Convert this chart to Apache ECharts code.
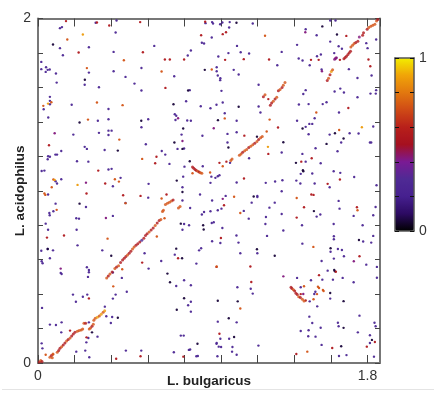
<!DOCTYPE html>
<html><head><meta charset="utf-8">
<style>html,body{margin:0;padding:0;background:#fff}#c{width:434px;height:393px}</style>
<script src="https://cdn.jsdelivr.net/npm/echarts@6/dist/echarts.min.js"></script>
</head><body><div id="c"></div>
<script>
// Match identity classes
const DARK=.06, PURPLE=.27, MAGENTA=.42, RED=.55, ORANGE=.72, AMBER=.88;
// L. bulgaricus (Mb), L. acidophilus (Mb)
const purpleHits=[
[.315,1.975],[.429,1.988],[.915,1.973],[.951,1.979],[.956,1.971],[.12,1.944],[.131,1.95],[.424,1.919],[.949,1.89],[.12,1.828],[.278,1.833],[.635,1.841],[.895,1.859],[.907,1.855],[.835,1.814],[.136,1.787],[.413,1.806],[.818,1.785],[.018,1.748],[.018,1.706],[.044,1.717],[.042,1.69],[.053,1.702],[.064,1.704],[.278,1.686],[.098,1.681],[.413,1.694],[.565,1.713],[.478,1.661],[.744,1.665],[.255,1.615],[.102,1.628],[.527,1.622],[.333,1.601],[.565,1.582],[.829,1.584],[.065,1.545],[.065,1.522],[.065,1.502],[.031,1.473],[.184,1.499],[.385,1.475],[.809,1.52],[.889,1.491],[.942,1.479],[.975,1.499],[.747,1.444],[.755,1.435],[.751,1.411],[.056,1.425],[.815,1.408],[.835,1.406],[.327,1.406],[.385,1.415],[.602,1.415],[.565,1.369],[.385,1.349],[.402,1.349],[.385,1.324],[.333,1.336],[.193,1.326],[.784,1.326],[.898,1.319],[.589,1.27],[.255,1.255],[.267,1.243],[.364,1.237],[.762,1.243],[.798,1.245],[.676,1.231],[.695,1.21],[.127,1.231],[.104,1.21],[.095,1.21],[.055,1.2],[.053,1.183],[.065,1.197],[.213,1.171],[.275,1.169],[.718,1.156],[.8,1.14],[.9,1.142],[.385,1.123],[.402,1.127],[.02,1.115],[.035,1.117],[.793,1.082],[.947,1.082],[.969,1.075],[.451,1.075],[.096,1.055],[.104,1.042],[.127,1.067],[.942,1.046],[.409,1.026],[.604,1.04],[.789,1.02],[.055,.978],[.885,.978],
[.096,.925],[.084,.881],[.062,.871],[.064,.858],[.262,.906],[.478,.929],[.602,.96],[.789,.943],[.831,.9],[.951,.943],[.942,.881],[.907,.877],[.895,.862],[.209,.84],[.224,.838],[.409,.854],[.042,.809],[.055,.774],[.211,.774],[.798,.807],[.825,.8],[.789,.774],[.949,.813],[.96,.817],[.951,.707],[.018,.652],[.053,.662],[.082,.654],[.065,.608],[.02,.591],[.025,.579],[.216,.683],[.351,.654],[.582,.637],[.747,.629],[.673,.592],[.604,.548],[.865,.577],[.891,.666],[.88,.654],[.124,.523],[.129,.517],[.267,.556],[.278,.54],[.278,.527],[.273,.5],[.409,.525],[.458,.494],[.798,.48],[.755,.447],[.835,.451],[.485,.414],[.191,.397],[.245,.385],[.269,.397],[.207,.356],[.424,.397],[.409,.374],[.835,.356],[.82,.335],[.365,.327],[.022,.32],[.835,.298],
[.405,.267],[.373,.271],[.398,.232],[.065,.223],[.098,.221],[.129,.236],[.127,.178],[.278,.236],[.325,.153],[.275,.145],[.264,.12],[.02,.114],[.024,.085],[.209,.066],[.258,.072],[.28,.033],[.48,.072],[.564,.072],[.742,.062],[.824,.076],[.865,.039],[.873,.041],[.975,.112],[.831,.078],[.796,.159],[.78,.159],
[.995,1.967],[1.007,1.977],[1.047,1.979],[1.044,1.948],[1.173,1.971],[1.087,1.841],[1.107,1.804],[1.153,1.797],[1.04,1.799],[.985,1.779],[1.307,1.729],[1.331,1.806],[1.462,1.938],[1.522,1.903],[1.596,1.988],[1.625,1.988],[1.596,1.866],[1.415,1.847],[1.642,1.839],[1.66,1.824],[1.793,1.857],[1.8,1.828],[1.847,1.878],[1.424,1.768],[1.445,1.756],[1.484,1.729],[1.524,1.781],[1.545,1.791],[1.618,1.799],[1.549,1.704],[1.698,1.706],[1.822,1.669],[1.745,1.655],[1.069,1.702],[1.096,1.675],[.976,1.717],[.976,1.694],[.982,1.669],[.995,1.642],[.996,1.653],
[1.205,1.615],[1.002,1.58],[1.462,1.584],[1.449,1.562],[1.62,1.576],[1.651,1.593],[1.671,1.57],[1.745,1.543],[1.816,1.564],[1.847,1.584],[1.845,1.564],[1.009,1.512],[1.205,1.489],[1.215,1.454],[1.425,1.501],[1.478,1.503],[1.555,1.503],[1.576,1.514],[1.644,1.454],[1.02,1.45],[1.085,1.406],[1.415,1.406],[1.511,1.421],[1.482,1.388],[1.498,1.388],[1.462,1.371],[1.831,1.373],[1.478,1.328],[1.593,1.326],[1.702,1.334],[1.751,1.332],[1.035,1.33],[1.085,1.34],[1.035,1.28],[1.656,1.28],[1.813,1.28],[1.82,1.28],[1.516,1.247],[1.636,1.229],[1.331,1.222],[1.153,1.189],[1.444,1.214],[1.544,1.16],[1.049,1.162],[1.462,1.169],[.991,1.09],[.982,1.084],[1.085,1.048],[1.244,1.046],[1.295,1.054],[1.335,1.061],[1.411,1.059],[1.433,1.042],[1.435,1.098],[1.498,1.1],[1.615,1.113],[1.651,1.104],[1.727,1.08],[1.593,1.02],[1.511,1.042],[1.849,1.032],[1.331,.997],[1.025,.97],[1.198,.97],
[1.002,.896],[.982,.887],[1.124,.883],[1.151,.838],[1.167,.931],[1.198,.964],[1.293,.931],[1.264,.902],[1.331,.865],[1.245,.848],[1.242,.807],[1.522,.85],[1.642,.941],[1.647,.896],[1.542,.862],[1.724,.854],[1.831,.858],[1.844,.906],[1.442,.8],[1.615,.807],[1.773,.8],[1.007,.784],[1.34,.769],[1.084,.74],[1.251,.738],[.996,.697],[1.095,.699],[1.616,.736],[1.616,.718],[1.776,.705],[1.82,.699],[1.831,.738],[1.444,.693],[1.198,.637],[1.105,.637],[1.598,.646],[1.638,.662],[1.66,.656],[1.671,.62],[1.616,.606],[1.549,.592],[1.793,.571],[1.851,.558],[1.582,.536],[1.415,.494],[1.491,.48],[1.553,.484],[1.611,.484],[1.664,.494],[1.724,.469],[1.851,.495],[1.435,.44],[1.089,.44],[1.162,.431],[1.173,.403],[1.515,.414],[1.509,.401],[1.596,.374],[1.484,.358],[1.525,.329],[1.756,.275],[1.482,.269],[1.498,.232],[1.544,.205],[1.435,.186],[1.478,.19],[1.476,.155],[1.516,.153],[1.638,.234],[1.642,.213],[1.747,.178],[1.838,.234],[1.844,.213],[1.813,.161],[1.813,.116],[1.549,.105],[1.644,.041],[1.685,.046],[1.835,.037],[.982,.24],[1.085,.236],[.996,.141],[1.044,.141],[.976,.116],[.987,.095],[1,.093],[1.062,.093],[1.06,.066],[1.085,.048],[1.204,.101],[.98,.039]
];
const darkHits=[
[.082,1.849],[.256,1.644],[.911,1.702],[.82,1.582],[.74,1.502],[.564,1.406],[.227,1.396],[.793,1.361],[.745,1.28],[.436,1.233],[.789,1.243],[.829,1.171],[.758,1.059],[.789,.993],[.227,.925],[.982,.361],[.78,.809],[.902,.8],[.905,.775],[.053,.662],[.4,.623],[.755,.664],[.787,.608],[.707,.519],[.721,.469],[.798,.376],[.758,.309],[.436,.263],[.295,.178],[.871,.112],[1.084,1.975],[1.553,1.954],[1.633,1.907],[1.096,1.488],[.983,1.41],[1.445,1.361],[1.196,1.314],[1.622,1.334],[1.04,1.251],[1.34,1.282],[1.576,1.272],[1.669,1.303],[1.409,1.162],[1.447,1.119],[1.449,1.113],[1.178,.967],[1.507,.882],[1.753,.714],[1.196,.66],[1.293,.623],[1.598,.666],[1.622,.532],[1.618,.54],[1.596,.406],[1.669,.359],[1.091,.358],[1.042,.26],[1.669,.204],[1.824,.134],[1.656,.097],[1.071,.151]
];
const magentaHits=[[.765,1.421],[.96,1.363],[.091,1.334],[.789,1.289],[.262,1.047],[.371,.842],[.124,.548],[1.46,1.92],[1.551,1.694],[1.009,.953],[1.34,.503],[1.449,.401],[1.725,.591],[1.624,1.766],[1.631,1.772]];
const redHits=[
[.153,1.985],[.322,1.977],[.389,1.959],[.558,1.979],[.913,1.981],[.891,1.903],[.222,1.803],[.573,1.804],[.693,1.762],[.72,1.762],[.798,1.762],[.696,1.597],[.06,1.264],[.647,1.197],[.64,1.16],[.329,1.117],[.367,1.042],[.265,.984],[.465,.974],[.56,.97],[.702,.978],[.142,.74],[.049,.728],[.765,.608],[.569,.583],[.975,.558],[.278,.375],[.175,.188],[.56,.039],[.427,.025],[.794,.037],[.265,.149],
[1.009,1.909],[1.027,1.92],[1.022,1.76],[1.124,1.764],[1.262,1.762],[1.684,1.899],[1.491,1.76],[1.533,1.76],[1.649,1.76],[1.805,1.762],[1.815,1.723],[1.258,1.532],[1.695,1.48],[1.311,1.367],[1.127,1.32],[1.258,1.214],[1.495,1.189],[1.438,1.169],[.991,1.162],[1.029,1.169],[1.125,1.071],[1.649,1.065],[1.582,1.04],[1.505,.976],[1.493,.978],[1.016,.916],[1.413,.844],[1.453,.904],[1.742,.904],[.999,.726],[1.16,.56],[1.535,.51],[1.756,.62],[1.627,.53],[1.165,.47],[1.435,.4],[1.462,.363],[.991,.17],[1.84,.122],[1.796,.095],[1.607,.087],[1.411,.052]
];
const orangeHits=[
[.16,1.878],[.469,1.758],[.267,1.712],[.675,1.692],[.949,1.704],[.322,1.512],[.462,1.497],[.029,1.493],[.073,1.514],[.273,1.413],[.444,1.297],[.569,1.185],[.844,1.102],[.94,1.106],[.42,1.067],[.442,1.053],[.084,1.065],[.075,1.02],[.035,.984],[.04,.976],[.102,.889],[.478,.928],[.675,.955],[.691,.84],[.649,.734],[.38,.722],[.46,.544],[.411,.445],[.042,.048],[.082,.05],
[1.24,1.9],[1.02,1.42],[1.52,1.454],[1.265,1.413],[1.249,1.344],[1.645,1.353],[1.009,1.142],[1.071,.965],[1.105,.871],[.976,.56],[1.504,.674],[1.413,.958],[1.745,.887],[1.471,.066],[1.524,.4],[1.453,.446],[1.529,.443],[1.535,.435],[1.556,.424],[1.56,.418],[1.505,.37],[1.105,.316]
];
const amberHits=[[.245,1.907],[.091,1.063],[.216,1.034],[1.256,1.255],[1.769,1.369],[.055,1.506]];
const diagonalHits=[
[.007,.006,RED],[.015,.014,ORANGE],[.022,.008,RED],[.065,.033,ORANGE],[.073,.043,RED],[.082,.052,ORANGE],[.078,.031,ORANGE],
[.105,.062,ORANGE],[.113,.073,RED],[.12,.085,RED],[.129,.095,ORANGE],[.138,.105,RED],[.147,.116,RED],[.156,.128,ORANGE],[.165,.136,RED],[.175,.145,ORANGE],[.184,.157,RED],[.193,.168,RED],[.202,.178,RED],
[.215,.184,ORANGE],[.225,.188,ORANGE],[.236,.192,ORANGE],[.244,.197,ORANGE],[.251,.231,ORANGE],[.26,.231,RED],[.28,.197,ORANGE],[.287,.203,ORANGE],[.295,.213,RED],[.302,.225,ORANGE],
[.305,.248,ORANGE],[.313,.26,ORANGE],[.324,.265,AMBER],[.335,.273,ORANGE],[.345,.283,AMBER],[.356,.294,ORANGE],[.364,.304,AMBER],
[.375,.494,ORANGE],[.384,.505,RED],[.393,.517,ORANGE],[.405,.529,RED],[.42,.548,ORANGE],[.429,.558,RED],[.44,.565,ORANGE],[.451,.583,RED],[.462,.598,RED],[.471,.608,RED],[.48,.618,RED],[.489,.627,ORANGE],[.498,.637,RED],[.507,.649,RED],[.516,.662,ORANGE],[.525,.674,ORANGE],[.535,.683,RED],[.545,.693,RED],[.556,.703,RED],[.567,.712,PURPLE],[.578,.724,RED],[.587,.74,RED],[.596,.751,RED],[.607,.761,ORANGE],[.618,.772,RED],[.629,.784,RED],[.64,.798,ORANGE],[.651,.813,RED],[.662,.827,RED],[.671,.833,ORANGE],
[.68,.879,ORANGE],[.685,.887,ORANGE],[.696,.92,ORANGE],[.707,.927,ORANGE],[.718,.933,ORANGE],[.729,.941,ORANGE],[.738,.947,RED],[.767,.9,ORANGE],[.776,.908,ORANGE],
[.844,1.138,RED],[.851,1.13,RED],[.858,1.124,RED],[.865,1.118,RED],[.873,1.113,ORANGE],[.88,1.109,RED],[.887,1.105,ORANGE],[.895,1.101,ORANGE],
[1.053,1.175,ORANGE],[1.06,1.185,ORANGE],[1.1,1.206,ORANGE],[1.109,1.214,ORANGE],[1.118,1.224,RED],[1.129,1.232,ORANGE],[1.14,1.24,ORANGE],[1.151,1.251,RED],[1.162,1.259,ORANGE],[1.173,1.267,ORANGE],[1.184,1.276,RED],[1.196,1.286,ORANGE],[1.205,1.297,RED],[1.216,1.307,ORANGE],[1.225,1.315,ORANGE],
[1.269,1.497,RED],[1.276,1.51,RED],[1.285,1.52,ORANGE],[1.295,1.533,RED],[1.304,1.543,ORANGE],[1.231,1.545,RED],[1.24,1.557,ORANGE],[1.313,1.58,RED],[1.322,1.588,ORANGE],[1.333,1.599,RED],[1.34,1.613,ORANGE],[1.349,1.628,ORANGE],
[1.58,1.64,RED],[1.587,1.653,ORANGE],[1.595,1.673,RED],[1.602,1.692,AMBER],[1.609,1.702,ORANGE],[1.62,1.764,MAGENTA],[1.627,1.77,MAGENTA],
[1.671,1.766,RED],[1.678,1.774,RED],[1.685,1.781,RED],[1.693,1.791,RED],[1.7,1.801,RED],[1.707,1.81,RED],[1.709,1.835,ORANGE],[1.718,1.845,ORANGE],[1.727,1.855,ORANGE],[1.736,1.861,RED],[1.747,1.868,RED],[1.755,1.892,MAGENTA],[1.773,1.903,RED],[1.778,1.917,RED],
[1.798,1.938,RED],[1.807,1.948,ORANGE],[1.818,1.955,ORANGE],[1.829,1.961,ORANGE],[1.84,1.967,ORANGE],[1.849,1.986,ORANGE],[1.856,1.994,RED],
[1.382,.44,RED],[1.387,.433,RED],[1.395,.425,ORANGE],[1.402,.418,RED],[1.409,.405,RED],[1.416,.397,RED],[1.424,.385,ORANGE],[1.433,.38,RED],[1.444,.37,ORANGE],[1.453,.36,ORANGE]
];
const valueSet=[...purpleHits.map(p=>[p[0],p[1],PURPLE]),...darkHits.map(p=>[p[0],p[1],DARK]),...magentaHits.map(p=>[p[0],p[1],MAGENTA]),...redHits.map(p=>[p[0],p[1],RED]),...orangeHits.map(p=>[p[0],p[1],ORANGE]),...amberHits.map(p=>[p[0],p[1],AMBER])];
const xTicks=['0','1.8'], yTicks=['0','2'], colorTicks=['0','1'];
const colorStops=['#000000','#2c0a62','#46208f','#4f2a94','#7a1a94','#a5101f','#b8201a','#cf4a16','#e2780f','#f0a408','#f2ee00'];
const labelText=(list)=>(v)=>{const s=list.find(t=>Math.abs(+t-v)<1e-6);return s===undefined?'':s;};
const gray='#777';
const chart=echarts.init(document.getElementById('c'),null,{renderer:'canvas'});
chart.setOption({
 animation:false,backgroundColor:'#fff',
 grid:[{left:38,top:18.5,width:342,height:344.5,show:false,outerBoundsMode:'none',containLabel:false},{left:395,top:58,width:19,height:173,show:false,outerBoundsMode:'none',containLabel:false}],
 xAxis:[
  {gridIndex:0,type:'value',min:0,max:1.868,interval:.2,position:'bottom',name:'L. bulgaricus',nameLocation:'middle',nameGap:18,nameMoveOverlap:false,
   nameTextStyle:{fontFamily:'Liberation Sans',fontWeight:'bold',fontSize:13.5,color:'#222',verticalAlign:'middle'},
   axisLine:{onZero:false,lineStyle:{color:gray,width:2}},axisTick:{inside:true,length:8,lineStyle:{color:'#444',width:1}},
   axisLabel:{formatter:labelText(xTicks),margin:6,fontFamily:'Liberation Sans',fontSize:14,color:'#333',showMaxLabel:false},splitLine:{show:false}},
  {gridIndex:0,type:'value',min:0,max:1.868,interval:.2,position:'top',
   axisLine:{onZero:false,lineStyle:{color:gray,width:2}},axisTick:{inside:true,length:8,lineStyle:{color:'#444',width:1}},axisLabel:{show:false},splitLine:{show:false}},
  {gridIndex:1,type:'value',min:0,max:1,position:'bottom',z:6,axisLine:{onZero:false,lineStyle:{color:'#555',width:1.5}},axisTick:{show:false},axisLabel:{show:false},splitLine:{show:false}},
  {gridIndex:1,type:'value',min:0,max:1,position:'top',z:6,axisLine:{onZero:false,lineStyle:{color:'#555',width:1.5}},axisTick:{show:false},axisLabel:{show:false},splitLine:{show:false}}
 ],
 yAxis:[
  {gridIndex:0,type:'value',min:0,max:2,interval:.2,position:'left',name:'L. acidophilus',nameLocation:'middle',nameGap:18,nameMoveOverlap:false,
   nameTextStyle:{fontFamily:'Liberation Sans',fontWeight:'bold',fontSize:13.5,color:'#222',verticalAlign:'middle'},
   axisLine:{onZero:false,lineStyle:{color:gray,width:2}},axisTick:{inside:true,length:5,lineStyle:{color:'#444',width:1}},
   axisLabel:{formatter:labelText(yTicks),margin:7,fontFamily:'Liberation Sans',fontSize:14,color:'#333'},splitLine:{show:false}},
  {gridIndex:0,type:'value',min:0,max:2,interval:.2,position:'right',
   axisLine:{onZero:false,lineStyle:{color:gray,width:2}},axisTick:{inside:true,length:5,lineStyle:{color:'#444',width:1}},axisLabel:{show:false},splitLine:{show:false}},
  {gridIndex:1,type:'value',min:0,max:1,interval:.2,position:'left',z:6,axisLine:{onZero:false,lineStyle:{color:'#555',width:1.5}},axisTick:{inside:true,length:4,lineStyle:{color:'#111',width:1}},axisLabel:{show:false},splitLine:{show:false}},
  {gridIndex:1,type:'value',min:0,max:1,interval:.2,position:'right',z:6,axisLine:{onZero:false,lineStyle:{color:'#555',width:1.5}},axisTick:{inside:true,length:4,lineStyle:{color:'#111',width:1}},
   axisLabel:{formatter:labelText(colorTicks),margin:5,fontFamily:'Liberation Sans',fontSize:14,color:'#333'},splitLine:{show:false}}
 ],
 visualMap:{type:'continuous',min:0,max:1,dimension:2,seriesIndex:[0,1],left:395,top:58,itemWidth:19,itemHeight:173,itemGap:0,padding:0,calculable:false,realtime:false,showLabel:false,text:null,inRange:{color:colorStops},z:4},
 series:[
  {type:'scatter',xAxisIndex:0,yAxisIndex:0,data:valueSet,symbolSize:2.4,silent:true,itemStyle:{opacity:.95}},
  {type:'scatter',xAxisIndex:0,yAxisIndex:0,data:diagonalHits,symbolSize:3,silent:true}
 ],
 graphic:[{type:'rect',shape:{x:2,y:389,width:432,height:1},style:{fill:'#e4e4e4'},silent:true}]
});
</script></body></html>
